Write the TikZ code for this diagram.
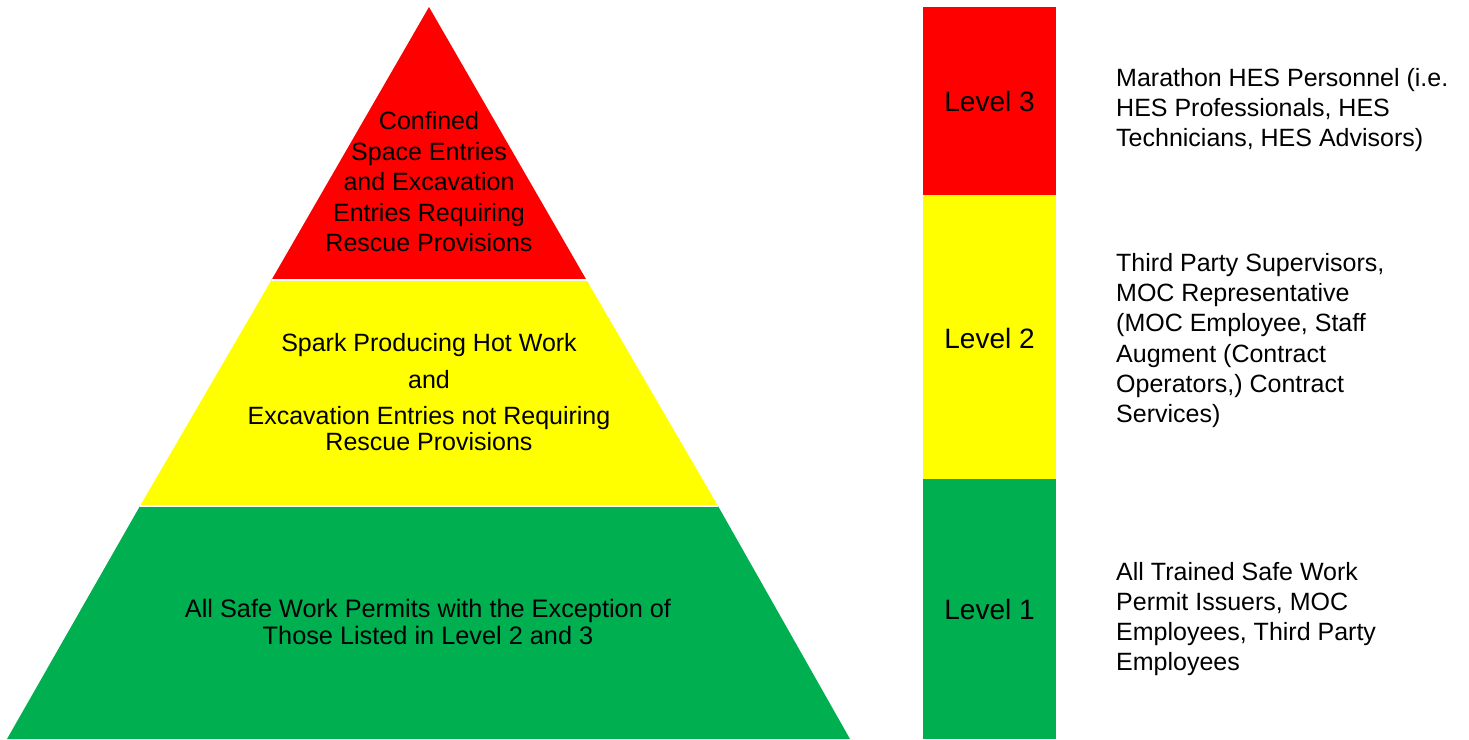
\documentclass[tikz,border=0pt]{standalone}
\usepackage{fontspec}
\setmainfont{Liberation Sans}
\definecolor{pyred}{RGB}{255,0,0}
\definecolor{pyyellow}{RGB}{255,255,0}
\definecolor{pygreen}{RGB}{0,176,80}
\tikzset{
  band/.style={draw=white, line width=1.5pt},
  bar/.style={draw=none},
  ptext/.style={align=center, font=\fontsize{25}{30.5}\selectfont, inner sep=0pt},
  lvtext/.style={font=\fontsize{28}{32}\selectfont, inner sep=0pt},
  desc/.style={align=left, anchor=west, font=\fontsize{25}{30.3}\selectfont, inner sep=0pt}
}
\begin{document}
\begin{tikzpicture}[x=1pt,y=-1pt]
\useasboundingbox (0,0) rectangle (1469,739);
% pyramid
\coordinate (apex) at (429,7);
\coordinate (rl) at (271.5,280);
\coordinate (rr) at (586.5,280);
\coordinate (yl) at (140,506);
\coordinate (yr) at (718,506);
\coordinate (gl) at (7,739);
\coordinate (gr) at (850,739);
\fill[pygreen] (yl) -- (yr) -- (gr) -- (gl) -- cycle;
\fill[pyyellow] (rl) -- (rr) -- (yr) -- (yl) -- cycle;
\fill[pyred] (apex) -- (rr) -- (rl) -- cycle;
\draw[band] (rl) -- (rr);
\draw[band] (yl) -- (yr);
\node[ptext] (t3) at (429,182) {Confined\\Space Entries\\and Excavation\\Entries Requiring\\Rescue Provisions};
\node[ptext, font=\fontsize{25}{26}\selectfont] (t2) at (429,392.5) {Spark Producing Hot Work\\[11pt]and\\[10pt]Excavation Entries not Requiring\\Rescue Provisions};
\node[ptext, font=\fontsize{25.3}{27}\selectfont] (t1) at (428,621.5) {All Safe Work Permits with the Exception of\\Those Listed in Level 2 and 3};
% bar
\fill[pyred] (923,7) rectangle (1056,195);
\fill[pyyellow] (923,195) rectangle (1056,479);
\fill[pygreen] (923,479) rectangle (1056,739);
\node[lvtext] (l3) at (989.5,101) {Level 3};
\node[lvtext] (l2) at (989.5,338) {Level 2};
\node[lvtext] (l1) at (989.5,609) {Level 1};
% descriptions
\node[desc] (d3) at (1116,110) {Marathon HES Personnel (i.e.\\HES Professionals, HES\\Technicians, HES Advisors)};
\node[desc] (d2) at (1116,340.5) {Third Party Supervisors,\\MOC Representative\\(MOC Employee, Staff\\Augment (Contract\\Operators,) Contract\\Services)};
\node[desc] (d1) at (1116,619) {All Trained Safe Work\\Permit Issuers, MOC\\Employees, Third Party\\Employees};
\end{tikzpicture}
\end{document}
